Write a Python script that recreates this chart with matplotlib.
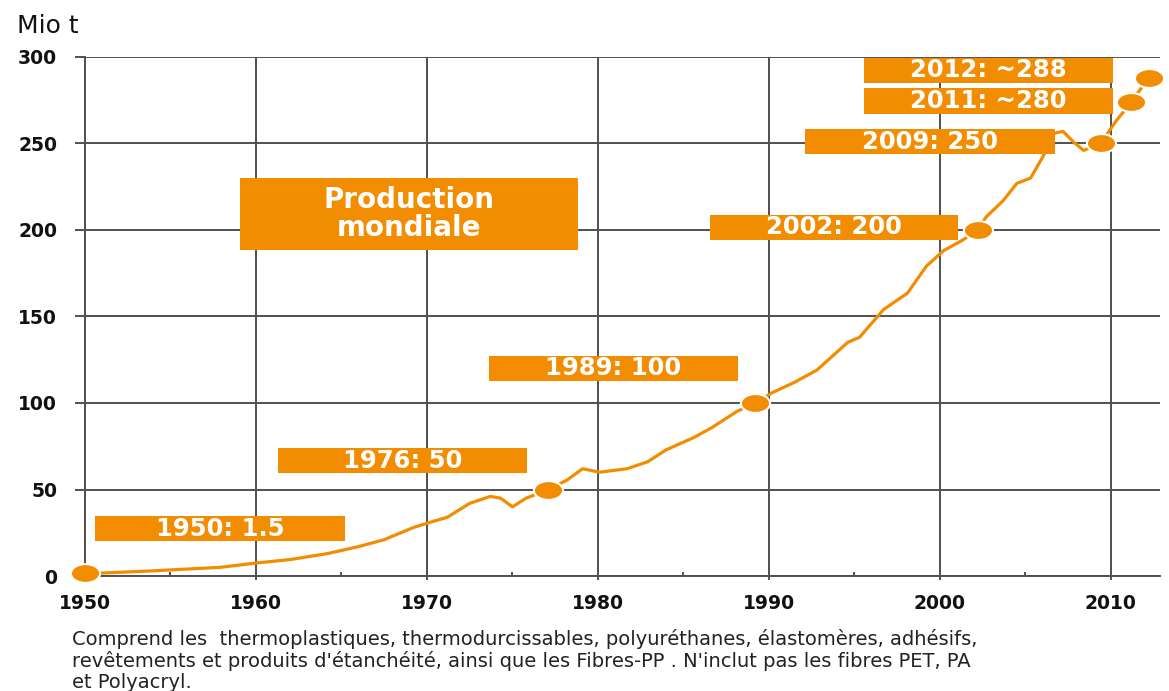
import matplotlib
matplotlib.use("Agg")
import matplotlib.pyplot as plt
from matplotlib.patches import Rectangle
from matplotlib.path import Path
from matplotlib.transforms import Affine2D
from matplotlib.ticker import MultipleLocator

# world plastics production, Mio t
years = [1950, 1951, 1954, 1957.9, 1960, 1962, 1964.2, 1966, 1967.5, 1969.2,
         1970, 1971.2, 1972.5, 1973.7, 1974.3, 1975.0, 1975.8, 1977.1, 1978.2,
         1979.1, 1980.1, 1981.7, 1982.9, 1984.0, 1985.6, 1986.7, 1988.1, 1989.2,
         1990.2, 1991.5, 1992.8, 1994.6, 1995.3, 1996.7, 1998.1, 1999.2, 2000.2,
         2001.3, 2002.2, 2002.7, 2003.7, 2004.5, 2005.3, 2006.0, 2006.7, 2007.2,
         2007.8, 2008.4, 2009.4, 2010.3, 2011.2, 2012.2]
production = [1.5, 1.7, 3, 5, 7.5, 9.5, 13, 17, 21, 28,
              30.5, 34, 42, 46, 45, 40, 45, 50, 55.5,
              62, 60, 62, 66, 73, 80, 86, 95, 100,
              106, 112, 119, 135, 138, 154, 163.5, 179, 188,
              194, 200, 207.5, 217, 227, 230, 242, 256, 257,
              251, 246, 250, 263, 274, 288]

marker_years = [1950, 1977.1, 1989.2, 2002.2, 2009.4, 2011.2, 2012.2]
marker_values = [1.5, 50, 100, 200, 250, 274, 288]
marker_labels = ["1950: 1.5", "1976: 50", "1989: 100", "2002: 200",
                 "2009: 250", "2011: ~280", "2012: ~288"]

x_ticks = [1950, 1960, 1970, 1980, 1990, 2000, 2010]
y_ticks = [0, 50, 100, 150, 200, 250, 300]

ORANGE = "#F28C00"
GRID = "#505050"

# label boxes: (x0, x1, y0, y1) in data units
boxes = [(1950.6, 1965.2, 20.2, 34.7),
         (1961.3, 1975.85, 59.5, 74.0),
         (1973.6, 1988.2, 112.7, 127.2),
         (1986.55, 2001.05, 194.2, 208.7),
         (1992.1, 2006.7, 243.9, 258.4),
         (1995.55, 2010.1, 267.1, 282.1),
         (1995.55, 2010.1, 285.0, 299.4)]

fig = plt.figure(figsize=(11.69, 6.91), dpi=100)
ax = fig.add_axes([85 / 1169, 115 / 691, 1075 / 1169, 519 / 691])
ax.set_xlim(1950, 2012.87)
ax.set_ylim(0, 300)

ax.set_xticks(x_ticks)
ax.set_yticks(y_ticks)
ax.xaxis.set_minor_locator(MultipleLocator(5))
ax.grid(True, which="major", color=GRID, linewidth=1.4, zorder=0)
ax.set_axisbelow(True)
for side in ["top", "right"]:
    ax.spines[side].set_visible(False)
for side in ["left", "bottom"]:
    ax.spines[side].set_color(GRID)
    ax.spines[side].set_linewidth(1.4)

ax.tick_params(axis="y", direction="out", length=7, width=1.4, color=GRID, pad=13,
               labelsize=13.5)
ax.tick_params(axis="x", which="major", direction="out", length=3, width=1.4,
               color=GRID, pad=10, labelsize=13.5)
ax.tick_params(axis="x", which="minor", direction="in", length=3, width=1.4, color=GRID)
for lab in ax.get_xticklabels() + ax.get_yticklabels():
    lab.set_fontweight("bold")
    lab.set_color("#111111")

ax.plot(years, production, color=ORANGE, linewidth=2.3, zorder=2,
        solid_joinstyle="round", solid_capstyle="round", clip_on=False)

ellipse = Path.unit_circle().transformed(Affine2D().scale(1.55, 1.0))
ax.plot(marker_years, marker_values, linestyle="none", marker=ellipse,
        markersize=21, markerfacecolor=ORANGE, markeredgecolor="white",
        markeredgewidth=1.5, zorder=5, clip_on=False)

for (x0, x1, y0, y1), text in zip(boxes, marker_labels):
    ax.add_patch(Rectangle((x0, y0), x1 - x0, y1 - y0, facecolor=ORANGE,
                           edgecolor="none", zorder=4))
    ax.text((x0 + x1) / 2, (y0 + y1) / 2, text, color="white", fontsize=17.5,
            fontweight="bold", ha="center", va="center", zorder=6)

# title box
ax.add_patch(Rectangle((1959.06, 188.4), 19.77, 41.7, facecolor=ORANGE,
                       edgecolor="none", zorder=4))
ax.text(1968.95, 209.2, "Production\nmondiale", color="white", fontsize=20,
        fontweight="bold", ha="center", va="center", linespacing=1.0, zorder=6)

fig.text(17 / 1169, 1 - 26 / 691, "Mio t", fontsize=18, color="#111111",
         ha="left", va="center")

notes = ["Comprend les  thermoplastiques, thermodurcissables, polyuréthanes, élastomères, adhésifs,",
         "revêtements et produits d'étanchéité, ainsi que les Fibres-PP . N'inclut pas les fibres PET, PA",
         "et Polyacryl."]
for i, line in enumerate(notes):
    fig.text(72 / 1169, 1 - (639 + 22 * i) / 691, line, fontsize=14,
             color="#222222", ha="left", va="center")

fig.savefig("out.png", dpi=100)
